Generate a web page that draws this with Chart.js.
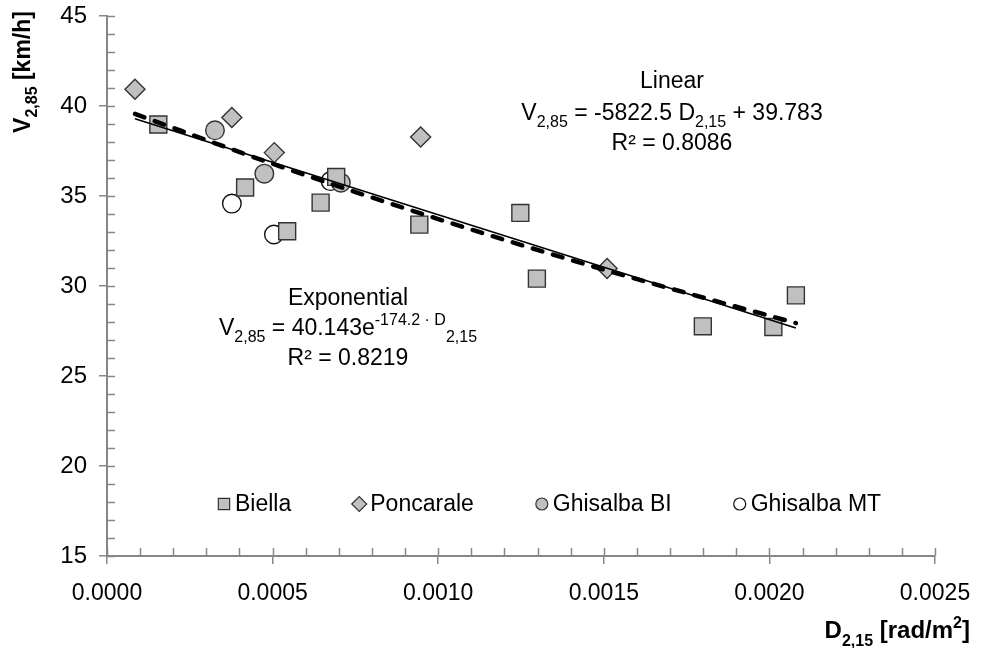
<!DOCTYPE html>
<html><head><meta charset="utf-8">
<script src="https://cdn.jsdelivr.net/npm/chart.js@4.4.1/dist/chart.umd.min.js"></script>
<style>html,body{margin:0;padding:0;background:#fff}canvas{display:block}</style>
</head><body>
<canvas id="c" width="981" height="648"></canvas>
<script>
// ---- data ----
const seriesNames = ['Biella', 'Poncarale', 'Ghisalba BI', 'Ghisalba MT'];
const biellaX = [0.000155, 0.000417, 0.000544, 0.000645, 0.000692, 0.000943, 0.001248, 0.001298, 0.001799, 0.002012, 0.00208];
const biellaY = [38.97, 35.47, 33.04, 34.63, 36.06, 33.41, 34.06, 30.41, 27.76, 27.72, 29.48];
const poncaraleX = [0.0000845, 0.000377, 0.000505, 0.000947, 0.00151];
const poncaraleY = [40.93, 39.36, 37.41, 38.28, 30.97];
const ghisalbaBIX = [0.000326, 0.000475, 0.000706];
const ghisalbaBIY = [38.65, 36.24, 35.74];
const ghisalbaMTX = [0.000377, 0.000504, 0.000675];
const ghisalbaMTY = [34.58, 32.86, 35.83];
// trend lines
const linearX = [0.0000845, 0.00208];
const linearY = [39.29, 27.67];
const expX = [0.0000845, 0.0005, 0.001, 0.0015, 0.00208];
const expY = [39.56, 36.79, 33.72, 30.91, 27.94];
// axis ticks
const xTickValues = [0, 0.0005, 0.001, 0.0015, 0.002, 0.0025];
const xTickLabels = ['0.0000', '0.0005', '0.0010', '0.0015', '0.0020', '0.0025'];
const yTickValues = [15, 20, 25, 30, 35, 40, 45];
const yTickLabels = ['15', '20', '25', '30', '35', '40', '45'];

const FONT = "'Liberation Sans', Arial, Helvetica, sans-serif";
const AXIS = '#878787';
const GRAYFILL = '#C0C0C0';
const EDGE = '#333333';

function pts(xs, ys) { return xs.map((x, i) => ({ x: x, y: ys[i] })); }

function segFont(s, size, bold) {
  const sz = (s.sub || s.sup) ? Math.round(size * 0.68) : size;
  return (bold ? 'bold ' : '') + sz + 'px ' + FONT;
}
function drawRich(ctx, segs, x, y, size, bold, align) {
  let w = 0;
  segs.forEach(s => { ctx.font = segFont(s, size, bold); w += ctx.measureText(s.t).width; });
  let cx = align === 'center' ? x - w / 2 : (align === 'right' ? x - w : x);
  ctx.textAlign = 'left';
  ctx.textBaseline = 'alphabetic';
  segs.forEach(s => {
    ctx.font = segFont(s, size, bold);
    const dy = s.sub ? size * 0.32 : (s.sup ? -size * 0.42 : 0);
    ctx.fillText(s.t, cx, y + dy);
    cx += ctx.measureText(s.t).width;
  });
}

const extras = {
  id: 'extras',
  afterDraw(chart) {
    const ctx = chart.ctx, xs = chart.scales.x, ys = chart.scales.y;
    const ax = xs.left, ay = ys.bottom;
    ctx.save();
    // inner tick marks (major ones cross the axis, minor ones are inside only)
    ctx.strokeStyle = AXIS; ctx.lineWidth = 1.5;
    ctx.beginPath();
    for (let v = yTickValues[0]; v <= yTickValues[yTickValues.length - 1]; v += 1) {
      const p = Math.round(ys.getPixelForValue(v)) + 0.5;
      ctx.moveTo(ax, p); ctx.lineTo(ax + 8, p);
    }
    for (let i = 0; i <= 25; i++) {
      const p = Math.round(xs.getPixelForValue(i * 0.0001)) + 0.5;
      ctx.moveTo(p, ay); ctx.lineTo(p, ay - 8);
    }
    ctx.stroke();

    // legend inside plot
    ctx.fillStyle = '#000';
    let cursor = 218;
    const ly = 504;
    const radii = { rect: 8, rectRot: 7.5, circle: 6 };
    chart.data.datasets.slice(0, 4).forEach(ds => {
      ctx.fillStyle = ds.backgroundColor; ctx.strokeStyle = ds.borderColor; ctx.lineWidth = 1.2;
      Chart.helpers.drawPoint(ctx, { pointStyle: ds.pointStyle, radius: radii[ds.pointStyle], borderWidth: 1.2, rotation: 0 }, cursor + 6, ly);
      ctx.fillStyle = '#000';
      ctx.font = '23px ' + FONT; ctx.textAlign = 'left'; ctx.textBaseline = 'middle';
      ctx.fillText(ds.label, cursor + 17, ly + 1);
      cursor = cursor + 17 + ctx.measureText(ds.label).width + 62;
    });

    // annotations
    ctx.fillStyle = '#000';
    drawRich(ctx, [{ t: 'Linear' }], 672, 88, 23, false, 'center');
    drawRich(ctx, [{ t: 'V' }, { t: '2,85', sub: true }, { t: ' = -5822.5 D' }, { t: '2,15', sub: true }, { t: ' + 39.783' }], 672, 120, 23, false, 'center');
    drawRich(ctx, [{ t: 'R² = 0.8086' }], 672, 150, 23, false, 'center');
    drawRich(ctx, [{ t: 'Exponential' }], 348, 305, 23, false, 'center');
    drawRich(ctx, [{ t: 'V' }, { t: '2,85', sub: true }, { t: ' = 40.143e' }, { t: '-174.2 · D', sup: true }, { t: '2,15', sub: true }], 348, 335, 23, false, 'center');
    drawRich(ctx, [{ t: 'R² = 0.8219' }], 348, 365, 23, false, 'center');

    // axis titles
    drawRich(ctx, [{ t: 'D' }, { t: '2,15', sub: true }, { t: ' [rad/m' }, { t: '2', sup: true }, { t: ']' }], 970, 638, 24, true, 'right');
    ctx.save();
    ctx.translate(30, 72);
    ctx.rotate(-Math.PI / 2);
    drawRich(ctx, [{ t: 'V' }, { t: '2,85', sub: true }, { t: ' [km/h]' }], 0, 0, 23, true, 'center');
    ctx.restore();
    ctx.restore();
  }
};

Chart.defaults.font.family = FONT;
Chart.defaults.color = '#000';

new Chart(document.getElementById('c'), {
  type: 'scatter',
  data: {
    datasets: [
      { label: seriesNames[0], data: pts(biellaX, biellaY), pointStyle: 'rect', pointRadius: 12, backgroundColor: GRAYFILL, borderColor: EDGE, borderWidth: 1.4, order: 1 },
      { label: seriesNames[1], data: pts(poncaraleX, poncaraleY), pointStyle: 'rectRot', pointRadius: 10, backgroundColor: GRAYFILL, borderColor: EDGE, borderWidth: 1.4, order: 1 },
      { label: seriesNames[2], data: pts(ghisalbaBIX, ghisalbaBIY), pointStyle: 'circle', pointRadius: 9.3, backgroundColor: GRAYFILL, borderColor: EDGE, borderWidth: 1.4, order: 1 },
      { label: seriesNames[3], data: pts(ghisalbaMTX, ghisalbaMTY), pointStyle: 'circle', pointRadius: 9.3, backgroundColor: '#FFFFFF', borderColor: '#111', borderWidth: 1.4, order: 1 },
      { label: 'Exponential', data: pts(expX, expY), showLine: true, pointRadius: 0, borderColor: '#000', borderWidth: 4.5, borderDash: [10, 11], borderCapStyle: 'round', cubicInterpolationMode: 'monotone', order: 0 },
      { label: 'Linear', data: pts(linearX, linearY), showLine: true, pointRadius: 0, borderColor: '#000', borderWidth: 1.6, order: 0 }
    ]
  },
  options: {
    responsive: false,
    animation: false,
    devicePixelRatio: 1,
    layout: { padding: { top: 16, right: 46, left: 0, bottom: 0 } },
    plugins: { legend: { display: false }, tooltip: { enabled: false } },
    scales: {
      x: {
        type: 'linear', min: 0, max: 0.0025,
        afterBuildTicks: s => { s.ticks = xTickValues.map(v => ({ value: v })); },
        afterFit: s => { s.height = 92; s.paddingLeft = 0; s.paddingRight = 0; },
        ticks: { callback: (v, i) => xTickLabels[i], font: { size: 23 }, color: '#000', padding: 16, maxRotation: 0 },
        grid: { drawOnChartArea: false, drawTicks: true, tickLength: 8, color: AXIS, lineWidth: 1.5 },
        border: { color: AXIS, width: 2 }
      },
      y: {
        type: 'linear', min: 15, max: 45,
        afterBuildTicks: s => { s.ticks = yTickValues.map(v => ({ value: v })); },
        afterFit: s => { s.width = 107; s.paddingTop = 0; s.paddingBottom = 0; },
        ticks: { callback: (v, i) => yTickLabels[i], font: { size: 24 }, color: '#000', padding: 12 },
        grid: { drawOnChartArea: false, drawTicks: true, tickLength: 8, color: AXIS, lineWidth: 1.5 },
        border: { color: AXIS, width: 2 }
      }
    }
  },
  plugins: [extras]
});
</script>
</body></html>
